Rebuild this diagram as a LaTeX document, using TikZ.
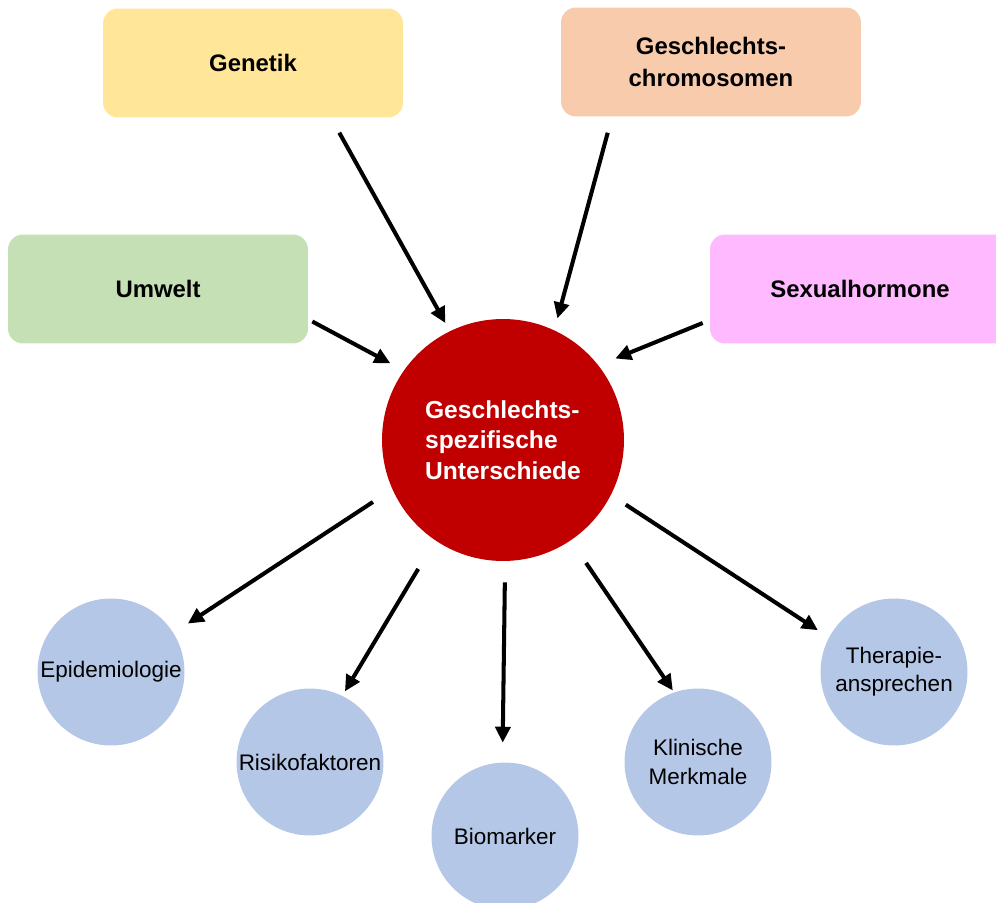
\documentclass[tikz,border=0pt]{standalone}
\usepackage{fontspec}
\setmainfont{Liberation Sans}
\usepackage{tikz}
\usetikzlibrary{arrows.meta}

\definecolor{genyellow}{HTML}{FFE699}
\definecolor{chrompeach}{HTML}{F8CBAD}
\definecolor{envgreen}{HTML}{C5E0B4}
\definecolor{hormpink}{HTML}{FFB9FF}
\definecolor{hubred}{HTML}{C00000}
\definecolor{outblue}{HTML}{B4C7E7}

\begin{document}
\begin{tikzpicture}[
			x=0.02cm, y=-0.02cm,
			factor/.style={rectangle, minimum width=6cm, minimum height=2.18cm, rounded corners=0.3cm, text centered, align=center, font=\fontsize{13.6}{18}\selectfont\bfseries},
			hub/.style={circle, fill=hubred, minimum size=4.84cm, inner sep=0pt, align=left, text=white, font=\fontsize{14}{17.5}\selectfont\bfseries},
			outcome/.style={circle, fill=outblue, minimum size=2.94cm, inner sep=0pt, align=center, font=\fontsize{12.8}{16}\selectfont},
			arrow/.style={line width=2.3pt, -{Triangle[length=0.32cm,width=0.3cm]}}
			]
			
			\clip (0,0) rectangle (996,902);
			
			% Nodes
			\node[hub] (hub) at (503,440) {Geschlechts-\\spezifische\\Unterschiede};
			
			\node[factor, fill=genyellow] (genetik) at (253,63) {Genetik};
			\node[factor, fill=chrompeach] (chrom) at (711,62) {Geschlechts-\\chromosomen};
			\node[factor, fill=envgreen] (umwelt) at (158,289) {Umwelt};
			\node[factor, fill=hormpink] (hormone) at (860,289) {Sexualhormone};
			
			\node[outcome] (epi) at (111,672) {Epidemiologie};
			\node[outcome] (risk) at (310,762) {Risikofaktoren};
			\node[outcome] (bio) at (505,836) {Biomarker};
			\node[outcome] (clin) at (698,762) {Klinische\\Merkmale};
			\node[outcome] (ther) at (894,672) {Therapie-\\ansprechen};
			
			% Arrows in
			\draw[arrow, shorten <=0.34cm, shorten >=0.18cm] ([xshift=1.56cm]genetik.south) -- (hub.116);
			\draw[arrow, shorten <=0.33cm, shorten >=0.24cm] ([xshift=-1.98cm]chrom.south) -- (hub.65);
			\draw[arrow, shorten >=0.3cm] ([xshift=0.08cm, yshift=-0.65cm]umwelt.east) -- (hub.145);
			\draw[arrow, shorten >=0.36cm] ([xshift=-0.14cm, yshift=-0.68cm]hormone.west) -- (hub.38);
			
			% Arrows out
			\draw[arrow, shorten <=0.46cm, shorten >=0.34cm] (hub.204) -- (epi.32);
			\draw[arrow, shorten <=0.66cm, shorten >=0.1cm] (hub.236) -- (risk.64);
			\draw[arrow, shorten <=0.42cm, shorten >=0.39cm] (hub.271) -- (bio.92);
			\draw[arrow, shorten <=0.54cm, shorten >=0.04cm] (hub.304) -- (clin.109);
			\draw[arrow, shorten <=0.35cm, shorten >=0.26cm] (hub.333) -- (ther.152);
			
		\end{tikzpicture}
\end{document}
